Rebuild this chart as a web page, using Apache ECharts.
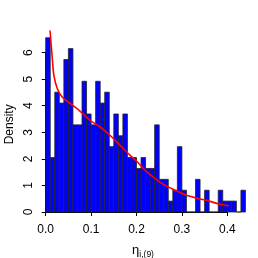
<!DOCTYPE html>
<html>
<head>
<meta charset="utf-8">
<script src="https://cdn.jsdelivr.net/npm/echarts@6/dist/echarts.min.js"></script>
<style>
html,body{margin:0;padding:0;background:#fff;}
#c{width:258px;height:258px;}
</style>
</head>
<body>
<div id="c"></div>
<script>
// Histogram bins (breaks) and densities
var breaks = [0.00,0.01,0.02,0.03,0.04,0.05,0.06,0.07,0.08,0.09,0.10,0.11,0.12,0.13,0.14,0.15,0.16,0.17,0.18,0.19,0.20,0.21,0.22,0.23,0.24,0.25,0.26,0.27,0.28,0.29,0.30,0.31,0.32,0.33,0.34,0.35,0.36,0.37,0.38,0.39,0.40,0.41,0.42,0.43,0.44];
var densities = [6.56,2.05,4.51,4.10,5.74,6.15,3.28,3.28,4.92,3.69,3.28,4.92,4.10,4.51,2.46,3.69,2.87,3.69,2.05,2.05,1.64,2.05,1.64,1.64,3.28,1.23,1.23,0.41,0.82,2.46,0.82,0,0,1.23,0,0.82,0,0,0.82,0.41,0.41,0.41,0,0.82];
// Fitted density curve
var curveX = [0.0095,0.0146,0.018,0.0256,0.0366,0.055,0.0756,0.0976,0.12,0.142,0.164,0.186,0.2,0.219,0.241,0.263,0.285,0.307,0.329,0.362,0.384,0.406,0.435];
var curveY = [6.83,5.77,5.14,4.64,4.32,4.07,3.80,3.45,3.20,2.88,2.51,2.13,1.92,1.57,1.26,1.00,0.82,0.65,0.54,0.40,0.29,0.23,0.15];
var xTicks = [0.0,0.1,0.2,0.3,0.4];
var yTicks = [0,1,2,3,4,5,6];

var barData = densities.map(function(d,i){return [breaks[i], breaks[i+1], d];});
var lineData = curveX.map(function(x,i){return [x, curveY[i]];});
var yLabelData = yTicks.map(function(v){return [xTicks[0], v];});

var font = '"Liberation Sans", Arial, Helvetica, sans-serif';
var chart = echarts.init(document.getElementById('c'), null, {renderer:'canvas'});
chart.setOption({
  animation:false,
  backgroundColor:'#ffffff',
  grid:{left:45.7, right:30.7, top:52.6, bottom:46, containLabel:false, outerBoundsMode:'none'},
  xAxis:{
    type:'value', min:xTicks[0], max:xTicks[xTicks.length-1], interval:0.1,
    offset:8.5,
    axisLine:{show:true, lineStyle:{color:'#000', width:1}},
    axisTick:{show:true, length:4, lineStyle:{color:'#000'}},
    splitLine:{show:false},
    axisLabel:{color:'#000', fontSize:12, fontFamily:font, margin:3, formatter:function(v){return v.toFixed(1);}},
    name:'{a|η}{b|i,(9)}', nameLocation:'middle', nameGap:23, nameMoveOverlap:false,
    nameTextStyle:{padding:[0,0,0,13], rich:{
      a:{fontSize:13, fontFamily:font, color:'#000', lineHeight:16, verticalAlign:'top'},
      b:{fontSize:8.5, fontFamily:font, color:'#000', lineHeight:16, verticalAlign:'bottom', padding:[8,0,0,0]}
    }}
  },
  yAxis:{
    type:'value', min:yTicks[0], max:yTicks[yTicks.length-1], interval:1,
    offset:6.7,
    axisLine:{show:true, lineStyle:{color:'#000', width:1}},
    axisTick:{show:true, length:4, lineStyle:{color:'#000'}},
    splitLine:{show:false},
    axisLabel:{show:false},
    name:'Density', nameLocation:'middle', nameGap:23, nameRotate:90, nameMoveOverlap:false,
    nameTextStyle:{color:'#000', fontSize:12, fontFamily:font, padding:[0,0,0,16]}
  },
  series:[
    {
      type:'custom', clip:false, z:2,
      data:barData,
      renderItem:function(params, api){
        var p0 = api.coord([api.value(0), 0]);
        var p1 = api.coord([api.value(1), api.value(2)]);
        return {type:'rect', shape:{x:p0[0], y:p1[1], width:p1[0]-p0[0], height:p0[1]-p1[1]},
          style:{fill:'#0000ff', stroke:'#222', lineWidth:0.8}};
      }
    },
    {
      type:'line', clip:false, z:3, smooth:0.3, symbol:'none',
      data:lineData,
      lineStyle:{color:'#ff0000', width:1.6}
    },
    {
      type:'custom', clip:false, z:4, silent:true,
      data:yLabelData,
      renderItem:function(params, api){
        var p = api.coord([api.value(0), api.value(1)]);
        return {type:'text', x:p[0]-17.5, y:p[1], rotation:Math.PI/2,
          style:{text:String(api.value(1)), fill:'#000', font:'12px ' + font, align:'center', verticalAlign:'middle'}};
      }
    }
  ]
});
</script>
</body>
</html>
